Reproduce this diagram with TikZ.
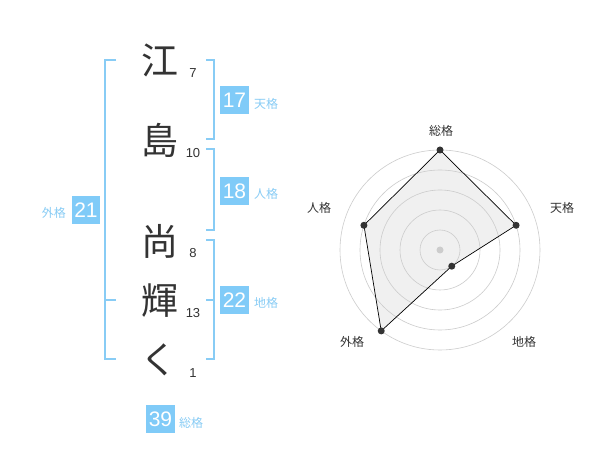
\documentclass[tikz,border=0pt]{standalone}
\usepackage{fontspec}
\setmainfont{Liberation Sans}
\newfontfamily\jp{Noto Sans CJK JP}
\definecolor{boxblue}{HTML}{80CBF8}
\definecolor{lblue}{HTML}{88CCF5}
\definecolor{ink}{HTML}{333333}
\definecolor{ringgray}{HTML}{CCCCCC}
\definecolor{areagray}{HTML}{F0F0F0}
\tikzset{
  kanji/.style={text=ink, font=\jp\fontsize{37}{37}\selectfont, inner sep=0pt},
  strokes/.style={text=ink, font=\fontsize{13}{13}\selectfont, inner sep=0pt},
  valbox/.style={fill=boxblue, text=white, minimum width=28.5pt, minimum height=28.5pt, inner sep=0pt, font=\fontsize{21}{21}\selectfont},
  kaku/.style={text=lblue, font=\jp\fontsize{12}{12}\selectfont, inner sep=0pt},
  bracket/.style={draw=lblue, line width=2pt},
  ring/.style={draw=ringgray, line width=0.6pt},
  rlabel/.style={text=ink, font=\jp\fontsize{12}{12}\selectfont, inner sep=0pt},
  dot/.style={circle, fill=ink, inner sep=0pt, minimum size=7pt},
}
\begin{document}
\begin{tikzpicture}[x=1pt,y=-1pt]
\useasboundingbox[fill=white] (0,0) rectangle (600,470);
% characters
\node[kanji] (c1) at (160,60) {江};
\node[kanji] (c2) at (160,140) {島};
\node[kanji] (c3) at (160,241) {尚};
\node[kanji] (c4) at (160,301) {輝};
\node[kanji] (c5) at (159,360) {く};
% stroke counts
\node[strokes] (n1) at (193,73) {7};
\node[strokes] (n2) at (193,153) {10};
\node[strokes] (n3) at (193,253) {8};
\node[strokes] (n4) at (193,313) {13};
\node[strokes] (n5) at (193,373) {1};
% brackets
\draw[bracket] (206,60) -- (214,60) -- (214,139) -- (206,139);
\draw[bracket] (206,149) -- (214,149) -- (214,230) -- (206,230);
\draw[bracket] (206,240) -- (214,240) -- (214,359) -- (206,359);
\draw[bracket] (206,300) -- (214,300);
\draw[bracket] (116,60) -- (105,60) -- (105,359) -- (116,359);
\draw[bracket] (105,300) -- (116,300);
% values
\node[valbox] (b17) at (234.5,100) {17};
\node[kaku, anchor=west] (l17) at (254,104) {天格};
\node[valbox] (b18) at (234.5,191) {18};
\node[kaku, anchor=west] (l18) at (254,194) {人格};
\node[valbox] (b22) at (234.5,300) {22};
\node[kaku, anchor=west] (l22) at (254,303) {地格};
\node[valbox] (b21) at (86,210) {21};
\node[kaku, anchor=east] (l21) at (66,213) {外格};
\node[valbox] (b39) at (160.5,419) {39};
\node[kaku, anchor=west] (l39) at (179,423) {総格};
% radar chart
\begin{scope}[shift={(440,250)}]
  \coordinate (pS) at (90:100pt);
  \coordinate (pT) at (18:80pt);
  \coordinate (pC) at (-54:20pt);
  \coordinate (pG) at (-126:100pt);
  \coordinate (pJ) at (162:80pt);
  \fill[areagray] (pS) -- (pT) -- (pC) -- (pG) -- (pJ) -- cycle;
  \foreach \r in {20,40,60,80,100} {\draw[ring] (0,0) circle[radius=\r pt];}
  \fill[ringgray] (0,0) circle[radius=3.5pt];
  \draw[black, line width=0.7pt] (pS) -- (pT) -- (pC) -- (pG) -- (pJ) -- cycle;
  \foreach \p in {pS,pT,pC,pG,pJ} {\node[dot] at (\p) {};}
\end{scope}
\node[rlabel] (rS) at (441,130.5) {総格};
\node[rlabel] (rT) at (562,208) {天格};
\node[rlabel] (rJ) at (319,208) {人格};
\node[rlabel] (rG) at (352,342) {外格};
\node[rlabel] (rC) at (524,342) {地格};
\end{tikzpicture}
\end{document}
